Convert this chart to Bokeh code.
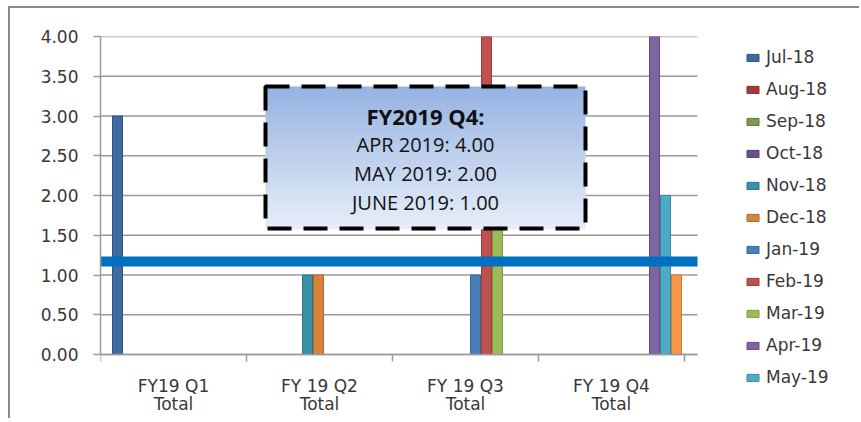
from bokeh.plotting import figure
from bokeh.models import (ColumnDataSource, BoxAnnotation, Label, Legend,
                          LegendItem, FixedTicker, NumeralTickFormatter, Range1d)
from bokeh.embed import file_html
from bokeh.resources import INLINE

# ---------------- data ----------------
months = ["Jul-18", "Aug-18", "Sep-18", "Oct-18", "Nov-18", "Dec-18",
          "Jan-19", "Feb-19", "Mar-19", "Apr-19", "May-19", "Jun-19"]
month_quarter = [0, 0, 0, 1, 1, 1, 2, 2, 2, 3, 3, 3]
values = [3.0, 0.0, 0.0, 0.0, 1.0, 1.0, 1.0, 4.0, 2.0, 4.0, 2.0, 1.0]
quarter_labels = ["FY19 Q1\nTotal", "FY 19 Q2\nTotal", "FY 19 Q3\nTotal", "FY 19 Q4\nTotal"]
y_ticks = [0.0, 0.5, 1.0, 1.5, 2.0, 2.5, 3.0, 3.5, 4.0]
y_max = 4.0
threshold = 1.17
note_title = "FY2019 Q4:"
note_lines = ["APR 2019", "MAY 2019", "JUNE 2019"]
legend_months = months[:11]

colors = ["#3f6aa1", "#a33b3a", "#7f9a48", "#6a5288", "#3a92a8", "#d8823a",
          "#4a7ebb", "#c0504d", "#9bbb59", "#8064a2", "#4bacc6", "#f79646"]
line_colors = ["#2f5283", "#832b2a", "#627a34", "#52406b", "#2b7487", "#b0682a",
               "#3a659a", "#9e3c3a", "#7d9a44", "#654e83", "#3a8ca3", "#d27a30"]

# ---------------- geometry (pixels) ----------------
W, H = 851, 412
FL, FT = 90, 28
frame_w = W - FL
frame_h = H - FT
cat_px = 146.0                 # pixels per quarter
unit_py = 79.5                 # pixels per 1.00 on the y axis
plot_w_px = 597.0              # width of the plotting area proper
x_cat_end = plot_w_px / cat_px
slot_off, slot_px, bar_px = 17.0, 11.0, 10.0

xs = [q + (slot_off + slot_px * i) / cat_px for i, q in enumerate(month_quarter)]
src = ColumnDataSource(dict(x=xs, top=values, month=months,
                            fill=colors, line=line_colors))

p = figure(width=W, height=H, output_backend="svg", toolbar_location=None,
           x_range=Range1d(0, frame_w / cat_px),
           y_range=Range1d(y_max - frame_h / unit_py, y_max),
           min_border_left=FL, min_border_right=0,
           min_border_top=FT, min_border_bottom=0)
p.outline_line_color = None
p.background_fill_color = "white"
p.border_fill_color = "white"
p.styles = {"border-top": "2px solid #8a8a8a", "border-left": "2px solid #8a8a8a",
            "margin-left": "8px", "margin-top": "6px"}
p.xgrid.visible = False
p.ygrid.visible = False

# horizontal gridlines limited to the plotting area
p.segment(x0=0, x1=x_cat_end, y0=y_ticks, y1=y_ticks,
          line_color="#9a9a9a", line_width=1.5)

bars = p.vbar(x="x", top="top", bottom=0, width=bar_px / cat_px, source=src,
              fill_color="fill", line_color="line", line_width=1)

# axes
p.yaxis.bounds = (0, y_max)
p.yaxis.ticker = FixedTicker(ticks=y_ticks)
p.yaxis.formatter = NumeralTickFormatter(format="0.00")
p.yaxis.axis_line_color = "#9a9a9a"
p.yaxis.axis_line_width = 1.5
p.yaxis.major_tick_line_color = "#9a9a9a"
p.yaxis.major_tick_line_width = 1.5
p.yaxis.major_tick_out = 7
p.yaxis.major_tick_in = 0
p.yaxis.minor_tick_line_color = None
p.yaxis.major_label_text_font = "DejaVu Sans"
p.yaxis.major_label_text_font_size = "17px"
p.yaxis.major_label_text_color = "#383838"
p.yaxis.major_label_standoff = 15

centers = [i + 0.5 for i in range(len(quarter_labels))]
p.xaxis.fixed_location = 0
p.xaxis.bounds = (0, x_cat_end)
p.xaxis.ticker = FixedTicker(ticks=centers,
                             minor_ticks=list(range(len(quarter_labels) + 1)))
p.xaxis.major_label_overrides = {c: lab for c, lab in zip(centers, quarter_labels)}
p.xaxis.axis_line_color = "#9a9a9a"
p.xaxis.axis_line_width = 1.5
p.xaxis.major_tick_line_color = None
p.xaxis.major_tick_out = 0
p.xaxis.major_tick_in = 0
p.xaxis.minor_tick_line_color = "#9a9a9a"
p.xaxis.minor_tick_line_width = 1.5
p.xaxis.minor_tick_out = 7
p.xaxis.minor_tick_in = 0
p.xaxis.major_label_text_font = "DejaVu Sans"
p.xaxis.major_label_text_font_size = "17px"
p.xaxis.major_label_text_line_height = 0.92
p.xaxis.major_label_text_color = "#383838"
p.xaxis.major_label_standoff = 14

# threshold line (limited to the plotting area)
p.segment(x0=0, x1=x_cat_end, y0=threshold, y1=threshold,
          line_color="#0070C0", line_width=10, line_cap="butt")

# note box with vertical gradient
def to_x(px): return px / cat_px
def to_y(py): return y_max - py / unit_py
box_l, box_r = 265 - 100, 585 - 100          # px from plot left
box_t, box_b = 87 - 37, 229 - 37             # px from plot top
top_c = (0x97, 0xb3, 0xe2)
bot_c = (0xe6, 0xed, 0xf8)
n = 36
for k in range(n):
    t = k / (n - 1)
    c = tuple(int(round(a + (b - a) * t)) for a, b in zip(top_c, bot_c))
    y0 = box_t + (box_b - box_t) * k / n
    y1 = box_t + (box_b - box_t) * (k + 1) / n
    p.add_layout(BoxAnnotation(left=to_x(box_l), right=to_x(box_r),
                               top=to_y(y0), bottom=to_y(y1) - 0.01,
                               fill_color="#%02x%02x%02x" % c, fill_alpha=1,
                               line_color=None))
p.add_layout(BoxAnnotation(left=to_x(box_l), right=to_x(box_r),
                           top=to_y(box_t), bottom=to_y(box_b),
                           fill_color=None, fill_alpha=0, line_color="black",
                           line_alpha=1, line_width=4, line_dash="24 12"))

cx = to_x((box_l + box_r) / 2)
p.add_layout(Label(x=cx, y=to_y(116.7 - 37), text=note_title,
                   text_align="center", text_baseline="middle",
                   text_font="Open Sans", text_font_size="22px",
                   text_font_style="bold", text_color="#111111"))
for j, (name, v) in enumerate(zip(note_lines, values[9:12])):
    py = [145.0, 174.0, 202.7][j] - 37
    p.add_layout(Label(x=cx, y=to_y(py), text=f"{name}: {v:.2f}",
                       text_align="center", text_baseline="middle",
                       text_font="Open Sans", text_font_size="20px",
                       text_color="#111111"))

# legend inside the (wide) frame, to the right of the plotting area
items = [LegendItem(label=m, renderers=[bars], index=i)
         for i, m in enumerate(legend_months)]
legend = Legend(items=items, location=(645, 33),
                glyph_width=15, glyph_height=9, label_height=20,
                spacing=12, padding=0, margin=0, label_standoff=6,
                label_text_font="DejaVu Sans", label_text_font_size="17px",
                label_text_color="#383838",
                background_fill_alpha=0, border_line_color=None)
p.add_layout(legend)

open("out.html", "w").write(file_html(p, INLINE))
